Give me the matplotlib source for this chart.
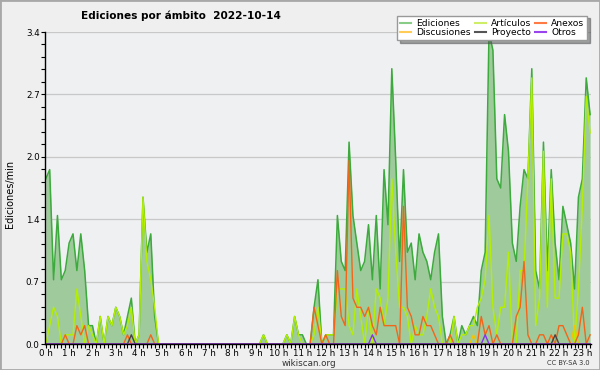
import matplotlib
matplotlib.use("Agg")
import matplotlib.pyplot as plt
from matplotlib.lines import Line2D
from matplotlib.patches import Rectangle
import numpy as np

# edits per minute, one value every 10 minutes from 0:00
ediciones = [1.8, 1.9, 0.7, 1.4, 0.7, 0.8, 1.1, 1.2, 0.8, 1.2,
             0.8, 0.2, 0.2, 0, 0.3, 0, 0.3, 0.2, 0.4, 0.3,
             0.1, 0.3, 0.5, 0, 0.1, 1.6, 1.0, 1.2, 0.3, 0,
             0, 0, 0, 0, 0, 0, 0, 0, 0, 0,
             0, 0, 0, 0, 0, 0, 0, 0, 0, 0,
             0, 0, 0, 0, 0, 0, 0.1, 0, 0, 0,
             0, 0, 0.1, 0, 0.3, 0.1, 0.1, 0, 0, 0.4,
             0.7, 0, 0.1, 0.1, 0.1, 1.4, 0.9, 0.8, 2.2, 1.4,
             1.1, 0.8, 0.9, 1.3, 0.7, 1.4, 0.6, 1.9, 1.3, 3.0,
             2.0, 0.9, 1.9, 1.0, 1.1, 0.7, 1.2, 1.0, 0.9, 0.7,
             1.0, 1.2, 0.3, 0, 0.1, 0.3, 0, 0.2, 0.1, 0.2,
             0.3, 0.2, 0.8, 1.0, 3.4, 3.2, 1.8, 1.7, 2.5, 2.1,
             1.1, 0.9, 1.5, 1.9, 1.8, 3.0, 0.8, 0.6, 2.2, 0.8,
             1.9, 1.1, 0.7, 1.5, 1.3, 1.1, 0.6, 1.6, 1.8, 2.9,
             2.5]
articulos = [0, 0.2, 0.4, 0.3, 0, 0.1, 0.1, 0.1, 0.6, 0.3,
             0, 0.2, 0.1, 0, 0.3, 0, 0.3, 0.2, 0.4, 0.3,
             0.1, 0.2, 0.4, 0, 0.1, 1.6, 0.9, 0.7, 0.4, 0,
             0, 0, 0, 0, 0, 0, 0, 0, 0, 0,
             0, 0, 0, 0, 0, 0, 0, 0, 0, 0,
             0, 0, 0, 0, 0, 0, 0.1, 0, 0, 0,
             0, 0, 0.1, 0, 0.3, 0.1, 0, 0, 0, 0.1,
             0.4, 0, 0.1, 0.1, 0.1, 0.6, 0.6, 0.6, 0.2, 0.1,
             0.6, 0.3, 0, 0.4, 0, 0.6, 0.5, 0.2, 0.5, 1.8,
             1.0, 0.4, 0.4, 0.3, 0, 0.2, 0.1, 0.1, 0.3, 0.6,
             0.4, 0.3, 0, 0, 0, 0.3, 0, 0.1, 0.1, 0.2,
             0.2, 0.4, 0.5, 0.7, 1.4, 0.4, 0.1, 0.4, 0.4, 1.0,
             0, 0, 0.8, 0.8, 1.8, 2.9, 0.2, 0.5, 2.1, 0.4,
             1.8, 0.5, 0.5, 1.2, 1.2, 1.0, 0, 0.6, 1.5, 2.7,
             2.3]
anexos = [0, 0, 0, 0, 0, 0.1, 0, 0, 0.2, 0.1,
          0.2, 0, 0, 0, 0, 0, 0, 0, 0, 0,
          0, 0.1, 0, 0, 0, 0, 0, 0.1, 0, 0,
          0, 0, 0, 0, 0, 0, 0, 0, 0, 0,
          0, 0, 0, 0, 0, 0, 0, 0, 0, 0,
          0, 0, 0, 0, 0, 0, 0, 0, 0, 0,
          0, 0, 0, 0, 0, 0, 0, 0, 0, 0.4,
          0.2, 0, 0.1, 0, 0, 0.8, 0.3, 0.2, 2.0, 0.5,
          0.4, 0.4, 0.3, 0.4, 0.2, 0.1, 0.4, 0.2, 0.2, 0.2,
          0.2, 0, 1.5, 0.4, 0.3, 0.1, 0.1, 0.3, 0.2, 0.2,
          0.1, 0, 0, 0, 0.1, 0, 0, 0, 0, 0,
          0, 0, 0.3, 0.1, 0.2, 0, 0.1, 0, 0, 0,
          0, 0.3, 0.4, 0.9, 0.1, 0, 0, 0.1, 0.1, 0,
          0.1, 0, 0.2, 0.2, 0.1, 0, 0, 0.1, 0.4, 0,
          0.1]
# sparse series: (slot index, value)
discusiones_idx = [110, 136]
discusiones_val = [0.1, 0.2]
proyecto_idx = [22, 131]
proyecto_val = [0.1, 0.1]
otros_idx = [84, 113]
otros_val = [0.1, 0.1]

hour_labels = [f"{h} h" for h in range(24)]
y_ticks = [0, 0.68, 1.36, 2.04, 2.72, 3.4]

n = len(ediciones)
t = np.arange(n) / 6.0


def sparse(idx, val):
    s = np.zeros(n)
    s[idx] = val
    return s


discusiones = sparse(discusiones_idx, discusiones_val)
proyecto = sparse(proyecto_idx, proyecto_val)
otros = sparse(otros_idx, otros_val)

fig = plt.figure(figsize=(6, 3.7), dpi=100, facecolor="#efefef")
ax = fig.add_axes([45 / 600, 26 / 370, 545.5 / 600, 312 / 370])
ax.set_facecolor("#eef0f2")

ax.fill_between(t, ediciones, color="#9fcb9c", lw=0)
ax.plot(t, ediciones, color="#3caa3c", lw=1.1)
ax.plot(t, articulos, color="#b4ee00", lw=1.0)
ax.plot(t, discusiones, color="#f5c400", lw=1.0)
ax.plot(t, anexos, color="#f2661a", lw=1.0)
ax.plot(t, proyecto, color="#444444", lw=1.0)
ax.plot(t, otros, color="#8a33e6", lw=1.0)

ax.set_xlim(-0.034, 23.35)
ax.set_ylim(0, 3.4)
ax.set_xticks(range(24))
ax.set_xticklabels(hour_labels, fontsize=6.3)
ax.set_xticks(np.arange(0, 23.4, 1 / 6), minor=True)
ax.set_yticks(y_ticks)
ax.set_yticklabels([f"{v:.1f}" for v in y_ticks], fontsize=6.3)
ax.set_yticks(np.arange(0, 3.41, 0.136), minor=True)
ax.tick_params(which="both", length=3, width=0.8, pad=0.8)
ax.grid(axis="y", color="#c8c8c8", lw=0.9)
ax.set_axisbelow(True)
for s in ["top", "right"]:
    ax.spines[s].set_visible(False)
for s in ["left", "bottom"]:
    ax.spines[s].set_linewidth(1.0)

fig.text(181 / 600, 1 - 16 / 370, "Ediciones por ámbito  2022-10-14",
         ha="center", va="center", fontsize=7.6, fontweight="bold")
fig.text(10 / 600, 1 - 194 / 370, "Ediciones/min", rotation=90,
         ha="center", va="center", fontsize=7)
fig.text(309 / 600, 1 - 363 / 370, "wikiscan.org", ha="center",
         va="center", fontsize=6.3, color="#333333")
fig.text(590 / 600, 1 - 363 / 370, "CC BY-SA 3.0", ha="right",
         va="center", fontsize=4.8, color="#333333")

handles = [Line2D([], [], color="#88cc88"), Line2D([], [], color="#ffcc55"),
           Line2D([], [], color="#cdee66"), Line2D([], [], color="#555555"),
           Line2D([], [], color="#ff7a44"), Line2D([], [], color="#9a44ee")]
labels = ["Ediciones", "Discusiones", "Artículos", "Proyecto", "Anexos", "Otros"]
leg = fig.legend(handles, labels, loc="upper right",
                 bbox_to_anchor=(592 / 600, 1 - 11 / 370), ncol=3,
                 fontsize=6.6, handlelength=1.2, handletextpad=0.5,
                 columnspacing=0.5, labelspacing=0.05, borderpad=0.35,
                 fancybox=False, shadow=True, framealpha=1,
                 edgecolor="#999999")

fig.patches.append(Rectangle((0, 0), 1, 1, transform=fig.transFigure,
                             fill=False, edgecolor="#a8a8a8", lw=2))

fig.savefig("out.png", dpi=100, facecolor=fig.get_facecolor())
